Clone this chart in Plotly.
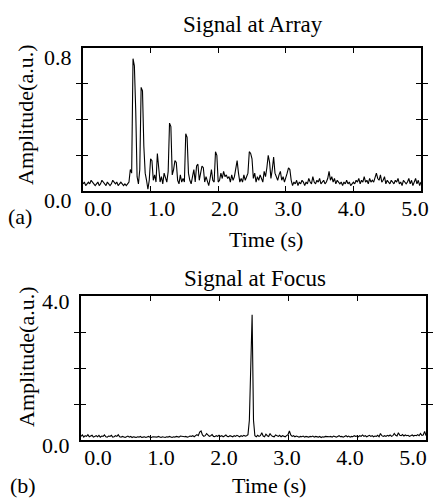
import plotly.graph_objects as go

# ---------------- data ----------------
DT = 0.02  # sample spacing in seconds

array_signal = [
    0.04, 0.05, 0.03, 0.04, 0.05, 0.04, 0.06, 0.05, 0.04, 0.03,  # 0.00
    0.04, 0.05, 0.03, 0.04, 0.06, 0.05, 0.04, 0.03, 0.05, 0.04,  # 0.20
    0.03, 0.04, 0.06, 0.05, 0.04, 0.05, 0.03, 0.04, 0.05, 0.04,  # 0.40
    0.03, 0.04, 0.03, 0.04, 0.05, 0.12, 0.10, 0.74, 0.70, 0.45,  # 0.60
    0.08, 0.04, 0.12, 0.58, 0.56, 0.25, 0.10, 0.06, 0.01, 0.06,  # 0.80
    0.18, 0.17, 0.06, 0.09, 0.05, 0.21, 0.12, 0.05, 0.08, 0.04,  # 1.00
    0.10, 0.07, 0.05, 0.11, 0.38, 0.36, 0.09, 0.12, 0.17, 0.16,  # 1.20
    0.06, 0.04, 0.09, 0.05, 0.07, 0.05, 0.32, 0.30, 0.10, 0.06,  # 1.40
    0.04, 0.08, 0.12, 0.05, 0.14, 0.15, 0.06, 0.10, 0.14, 0.13,  # 1.60
    0.05, 0.08, 0.06, 0.03, 0.07, 0.12, 0.06, 0.05, 0.22, 0.20,  # 1.80
    0.05, 0.06, 0.10, 0.07, 0.11, 0.08, 0.09, 0.07, 0.08, 0.05,  # 2.00
    0.09, 0.06, 0.08, 0.12, 0.17, 0.10, 0.05, 0.07, 0.05, 0.09,  # 2.20
    0.06, 0.08, 0.10, 0.22, 0.21, 0.18, 0.07, 0.10, 0.05, 0.08,  # 2.40
    0.06, 0.09, 0.07, 0.05, 0.11, 0.08, 0.13, 0.20, 0.16, 0.07,  # 2.60
    0.12, 0.19, 0.10, 0.08, 0.06, 0.09, 0.11, 0.06, 0.08, 0.05,  # 2.80
    0.07, 0.10, 0.13, 0.12, 0.06, 0.03, 0.05, 0.04, 0.06, 0.03,  # 3.00
    0.05, 0.04, 0.06, 0.05, 0.03, 0.05, 0.04, 0.07, 0.05, 0.04,  # 3.20
    0.08, 0.05, 0.04, 0.06, 0.05, 0.07, 0.04, 0.05, 0.06, 0.04,  # 3.40
    0.05, 0.07, 0.11, 0.06, 0.08, 0.05, 0.07, 0.04, 0.06, 0.05,  # 3.60
    0.04, 0.05, 0.03, 0.05, 0.04, 0.06, 0.04, 0.05, 0.03, 0.04,  # 3.80
    0.05, 0.04, 0.06, 0.05, 0.07, 0.04, 0.06, 0.05, 0.08, 0.05,  # 4.00
    0.06, 0.04, 0.07, 0.05, 0.06, 0.05, 0.08, 0.10, 0.07, 0.06,  # 4.20
    0.09, 0.05, 0.06, 0.08, 0.04, 0.06, 0.05, 0.04, 0.06, 0.05,  # 4.40
    0.04, 0.06, 0.05, 0.07, 0.04, 0.05, 0.03, 0.06, 0.05, 0.04,  # 4.60
    0.05, 0.07, 0.04, 0.06, 0.03, 0.05, 0.07, 0.04, 0.06, 0.03,  # 4.80
    0.05,                                                        # 5.00
]

focus_signal = [
    0.10, 0.14, 0.08, 0.12, 0.10, 0.15, 0.09, 0.11, 0.13, 0.08,  # 0.00
    0.10, 0.12, 0.09, 0.13, 0.08, 0.11, 0.10, 0.14, 0.09, 0.08,  # 0.20
    0.11, 0.10, 0.13, 0.08, 0.09, 0.12, 0.10, 0.15, 0.09, 0.08,  # 0.40
    0.10, 0.08, 0.07, 0.09, 0.11, 0.08, 0.10, 0.07, 0.09, 0.08,  # 0.60
    0.07, 0.09, 0.08, 0.10, 0.07, 0.08, 0.09, 0.07, 0.08, 0.10,  # 0.80
    0.08, 0.07, 0.09, 0.08, 0.07, 0.08, 0.10, 0.08, 0.07, 0.09,  # 1.00
    0.08, 0.07, 0.09, 0.08, 0.10, 0.08, 0.07, 0.09, 0.08, 0.10,  # 1.20
    0.09, 0.08, 0.11, 0.10, 0.08, 0.09, 0.10, 0.08, 0.09, 0.11,  # 1.40
    0.10, 0.12, 0.09, 0.11, 0.15, 0.12, 0.22, 0.25, 0.14, 0.10,  # 1.60
    0.12, 0.18, 0.13, 0.10, 0.12, 0.15, 0.10, 0.09, 0.12, 0.10,  # 1.80
    0.13, 0.10, 0.12, 0.09, 0.11, 0.14, 0.10, 0.09, 0.12, 0.10,  # 2.00
    0.09, 0.12, 0.10, 0.13, 0.10, 0.09, 0.12, 0.10, 0.13, 0.11,  # 2.20
    0.12, 0.15, 0.55, 2.20, 3.48, 0.55, 0.12, 0.09, 0.13, 0.10,  # 2.40
    0.12, 0.20, 0.11, 0.09, 0.16, 0.12, 0.10, 0.18, 0.12, 0.10,  # 2.60
    0.09, 0.14, 0.11, 0.10, 0.13, 0.09, 0.12, 0.10, 0.09, 0.12,  # 2.80
    0.15, 0.25, 0.14, 0.10, 0.12, 0.09, 0.11, 0.10, 0.08, 0.10,  # 3.00
    0.09, 0.11, 0.08, 0.10, 0.09, 0.08, 0.10, 0.09, 0.11, 0.08,  # 3.20
    0.10, 0.09, 0.08, 0.10, 0.07, 0.09, 0.08, 0.10, 0.09, 0.08,  # 3.40
    0.09, 0.10, 0.08, 0.11, 0.09, 0.08, 0.10, 0.12, 0.09, 0.10,  # 3.60
    0.08, 0.10, 0.12, 0.09, 0.11, 0.08, 0.10, 0.09, 0.12, 0.10,  # 3.80
    0.11, 0.09, 0.12, 0.10, 0.14, 0.10, 0.12, 0.09, 0.11, 0.13,  # 4.00
    0.10, 0.12, 0.09, 0.11, 0.10, 0.13, 0.09, 0.18, 0.12, 0.10,  # 4.20
    0.12, 0.10, 0.13, 0.11, 0.14, 0.10, 0.12, 0.18, 0.13, 0.11,  # 4.40
    0.20, 0.13, 0.12, 0.15, 0.11, 0.14, 0.12, 0.13, 0.10, 0.12,  # 4.60
    0.14, 0.11, 0.13, 0.12, 0.15, 0.12, 0.18, 0.13, 0.14, 0.24,  # 4.80
    0.12,                                                        # 5.00
]

x_tickvals = [0, 1, 2, 3, 4, 5]
x_ticktext = ["0.0", "1.0", "2.0", "3.0", "4.0", "5.0"]
y1_tickvals = [0, 0.2, 0.4, 0.6, 0.8]
y1_ticktext = ["0.0", "", "", "", "0.8"]
y2_tickvals = [0, 1, 2, 3, 4]
y2_ticktext = ["0.0", "", "", "", "4.0"]
titles = ["Signal at Array", "Signal at Focus"]
panel_tags = ["(a)", "(b)"]
x_title = "Time (s)"
y_title = "Amplitude(a.u.)"

t_array = [round(i * DT, 4) for i in range(len(array_signal))]
t_focus = [round(i * DT, 4) for i in range(len(focus_signal))]

# ---------------- figure ----------------
W, H = 434, 498
FONT = "Liberation Serif"


def px(x):
    return x / W


def py(y):
    return 1 - y / H


fig = go.Figure()
fig.add_trace(go.Scatter(x=t_array, y=array_signal, mode="lines",
                         line=dict(color="black", width=1.1),
                         xaxis="x", yaxis="y", showlegend=False,
                         hoverinfo="skip"))
fig.add_trace(go.Scatter(x=t_focus, y=focus_signal, mode="lines",
                         line=dict(color="black", width=1.1),
                         xaxis="x2", yaxis="y2", showlegend=False,
                         hoverinfo="skip"))
# empty traces so the label-only overlay axes get drawn
fig.add_trace(go.Scatter(x=[], y=[], xaxis="x3", yaxis="y",
                         showlegend=False, hoverinfo="skip"))
fig.add_trace(go.Scatter(x=[], y=[], xaxis="x4", yaxis="y2",
                         showlegend=False, hoverinfo="skip"))

tickfont = dict(family=FONT, size=22, color="black")
# data axes: ticks, frame, no labels
common_x = dict(range=[0, 5], tickvals=x_tickvals, showticklabels=False,
                ticks="inside", ticklen=5, tickwidth=1, tickcolor="black",
                showline=True, linecolor="black", linewidth=2,
                mirror="allticks", showgrid=False, zeroline=False,
                automargin=False)
# label axes: the original prints its time labels slightly compressed
label_x = dict(tickvals=x_tickvals, ticktext=x_ticktext, ticks="",
               showline=False, showgrid=False, zeroline=False,
               automargin=False, tickangle=0, tickfont=tickfont,
               ticklabelstandoff=2, side="bottom", fixedrange=True)
common_y = dict(ticks="inside", ticklen=5, tickwidth=1, tickcolor="black",
                showline=True, linecolor="black", linewidth=2,
                mirror="allticks", showgrid=False, zeroline=False,
                automargin=False,
                tickfont=tickfont, ticklabelstandoff=5)

fig.update_layout(
    template="none",
    width=W, height=H,
    margin=dict(l=0, r=0, t=0, b=0, pad=0, autoexpand=False),
    paper_bgcolor="white", plot_bgcolor="white",
    font=dict(family=FONT, color="black"),
    xaxis=dict(domain=[px(83), px(421)], anchor="y", **common_x),
    yaxis=dict(domain=[py(191), py(48)], anchor="x", range=[0, 0.8],
               tickvals=y1_tickvals, ticktext=y1_ticktext,
               ticklabelshift=9, **common_y),
    xaxis2=dict(domain=[px(81), px(426)], anchor="y2", **common_x),
    yaxis2=dict(domain=[py(440), py(296)], anchor="x2", range=[0, 4],
                tickvals=y2_tickvals, ticktext=y2_ticktext,
                ticklabelshift=5, **common_y),
    xaxis3=dict(domain=[px(83), px(421)], anchor="y", overlaying="x",
                range=[-0.237, 5.095], **label_x),
    xaxis4=dict(domain=[px(81), px(426)], anchor="y2", overlaying="x2",
                range=[-0.27, 5.206], **label_x),
)

ann_font = dict(family=FONT, size=22, color="black")
title_font = dict(family=FONT, size=23, color="black")
annotations = [
    dict(text=titles[0], x=px(253), y=py(24), font=title_font),
    dict(text=titles[1], x=px(255), y=py(278), font=title_font),
    dict(text=x_title, x=px(266), y=py(239), font=ann_font),
    dict(text=x_title, x=px(269), y=py(485), font=ann_font),
    dict(text=panel_tags[0], x=px(20), y=py(216), font=ann_font),
    dict(text=panel_tags[1], x=px(23), y=py(485), font=ann_font),
    dict(text=y_title, x=px(26), y=py(115), textangle=-90, font=ann_font),
    dict(text=y_title, x=px(26), y=py(357), textangle=-90, font=ann_font),
]
for a in annotations:
    fig.add_annotation(xref="paper", yref="paper", showarrow=False,
                       xanchor="center", yanchor="middle", **a)

fig.write_html("out.html", config={"displayModeBar": False},
               post_script="document.body.style.margin='0';")
